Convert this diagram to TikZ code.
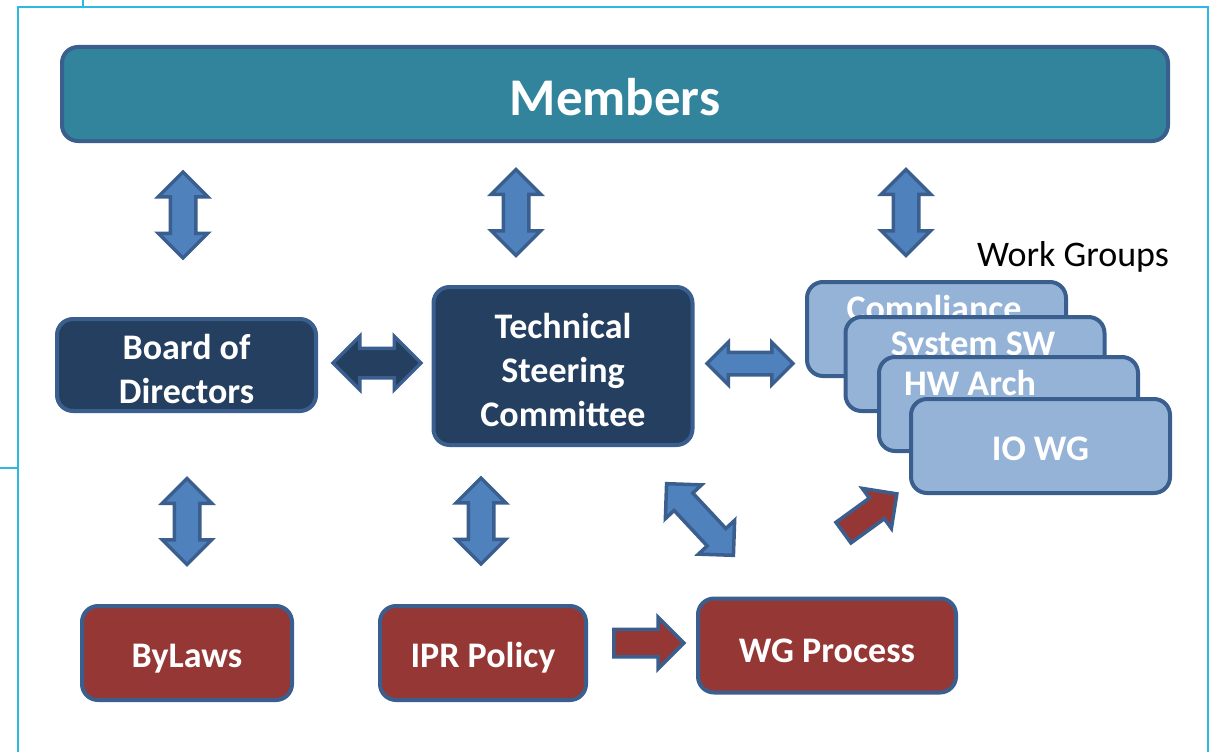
\documentclass[tikz,border=0pt]{standalone}
\usepackage{fontspec}
\setmainfont{Carlito}
\usetikzlibrary{shapes.arrows}

\definecolor{frameblue}{HTML}{2DB9E2}
\definecolor{edgeblue}{HTML}{3A5F8E}
\definecolor{tealfill}{HTML}{31849B}
\definecolor{navyfill}{HTML}{243F60}
\definecolor{wgfill}{HTML}{95B3D7}
\definecolor{redfill}{HTML}{953735}
\definecolor{arrowfill}{HTML}{4F81BD}

\newcommand{\boxstrut}{\rule{0pt}{34pt}}

\begin{document}
\begin{tikzpicture}[x=1pt,y=-1pt]
	\tikzstyle{box}     = [rectangle, rounded corners=16pt, line width=4pt, draw=edgeblue, text=white, align=center, inner sep=0pt, font=\fontsize{36}{44}\selectfont\bfseries]
	\tikzstyle{topbox}  = [box, fill=tealfill, minimum width=1106pt, minimum height=94pt, font=\fontsize{53}{60}\selectfont\bfseries]
	\tikzstyle{navybox} = [box, fill=navyfill, minimum width=259pt]
	\tikzstyle{wgbox}   = [box, fill=wgfill, minimum width=259pt, minimum height=94pt]
	\tikzstyle{redbox}  = [box, fill=redfill, minimum height=94pt]
	\tikzstyle{wgtext}  = [anchor=base, text=white, inner sep=0pt, font=\fontsize{36}{44}\selectfont\bfseries]
	\tikzstyle{varrow}  = [double arrow, rotate=90, draw=edgeblue, fill=arrowfill, line width=3.5pt, inner xsep=0pt, inner ysep=11pt, double arrow head extend=12pt, minimum height=86pt]
	\tikzstyle{redarrow} = [single arrow, draw=edgeblue, fill=redfill, line width=3.5pt, inner xsep=0pt, inner ysep=12pt, single arrow head extend=12pt]

	\useasboundingbox (0,0) rectangle (1216,752);

	% frame
	\draw[frameblue, line width=2pt] (18,752) -- (18,7) -- (1208,7) -- (1208,752);
	\draw[frameblue, line width=2pt] (83,0) -- (83,7);
	\draw[frameblue, line width=2pt] (0,468) -- (18,468);

	\node[topbox] (members) at (615,94) {\rule{0pt}{43pt}Members};
	\node[navybox, minimum height=92pt] (board) at (186.5,365) {\boxstrut Board of\\Directors};
	\node[navybox, minimum height=158pt] (tsc) at (563,366) {\boxstrut Technical\\Steering\\Committee};

	% work groups, back to front
	\node[anchor=base, font=\fontsize{36}{44}\selectfont] (wglabel) at (1073,266) {Work Groups};
	\foreach \name/\x/\y/\tx/\label in {comp/936.5/329/934/Compliance, syssw/975/364/973/System SW, hwarch/1008.5/404/970/HW Arch}{
		\node[wgbox] (\name) at (\x,\y) {};
		\node[wgtext] (\name text) at (\tx,\y+-9) {\label};
	}
	\node[wgbox] (iowg) at (1040.5,446) {\rule{0pt}{30pt}IO WG};

	\node[redbox, minimum width=210pt] (bylaws) at (187,653) {\boxstrut ByLaws};
	\node[redbox, minimum width=206pt] (ipr) at (483,653) {\boxstrut IPR Policy};
	\node[redbox, minimum width=258pt] (wgproc) at (827,645.5) {\boxstrut WG Process};

	% block arrows
	\foreach \name/\x/\y in {memboard/183/215, memtsc/516/212.5, memwg/906/212.5, boardlaws/187/521.5, tscipr/481/521}
		\node[varrow] (\name) at (\x,\y) {};

	\node[double arrow, draw=edgeblue, fill=navyfill, line width=3.5pt, inner xsep=0pt, inner ysep=13pt, double arrow head extend=12pt, minimum height=88pt] (boardtsc) at (377,363) {};
	\node[double arrow, draw=edgeblue, fill=arrowfill, line width=3.5pt, inner xsep=0pt, inner ysep=9.5pt, double arrow head extend=10pt, minimum height=86pt] (tscwg) at (750,363.5) {};
	\node[varrow, rotate=-137, minimum height=98pt] (tscproc) at (700,519.5) {};
	\node[redarrow, minimum height=70pt] (iprproc) at (642,643) {};
	\node[redarrow, rotate=36, minimum height=66pt, inner ysep=11pt] (procwg) at (865,517) {};
\end{tikzpicture}
\end{document}
